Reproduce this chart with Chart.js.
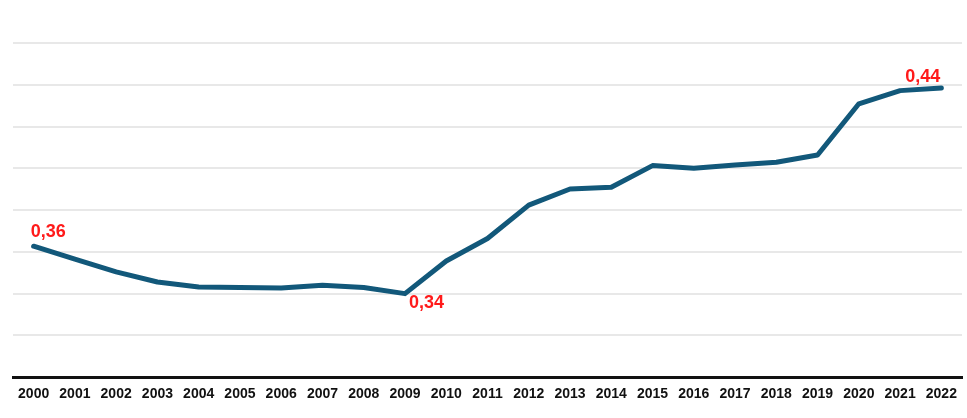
<!DOCTYPE html>
<html>
<head>
<meta charset="utf-8">
<script src="https://cdn.jsdelivr.net/npm/chart.js@4/dist/chart.umd.min.js"></script>
<style>
  html, body { margin: 0; padding: 0; background: #fff; }
  #wrap { width: 967px; height: 418px; position: relative; }
</style>
</head>
<body>
<div id="wrap"><canvas id="chart"></canvas></div>
<script>
// Years on the x axis
const years = ['2000', '2001', '2002', '2003', '2004', '2005', '2006', '2007', '2008', '2009', '2010',
    '2011', '2012', '2013', '2014', '2015', '2016', '2017', '2018', '2019', '2020', '2021', '2022'];

// Series values
const values = [0.3627, 0.3565, 0.3504, 0.3456, 0.3432, 0.3430, 0.3427, 0.3440, 0.3429, 0.3400, 0.3556,
    0.3664, 0.3824, 0.3901, 0.3909, 0.4013, 0.4000, 0.4016, 0.4029, 0.4064, 0.4309, 0.4372, 0.4385];

// Annotated points: index into years, text shown
const annotatedIdx = [0, 9, 22];
const annotatedText = ['0,36', '0,34', '0,44'];

const lineColor = '#12587a';

// Draws the red value labels next to a few points
const pointLabels = {
    id: 'pointLabels',
    afterDatasetsDraw(chart) {
        const { ctx } = chart;
        const meta = chart.getDatasetMeta(0);
        ctx.save();
        ctx.fillStyle = '#ff1a1a';
        ctx.font = 'bold 18px "Liberation Sans", Arial, sans-serif';
        ctx.textBaseline = 'middle';
        annotatedIdx.forEach((idx, i) => {
            const pt = meta.data[idx];
            if (idx === 0) {
                ctx.textAlign = 'left';
                ctx.fillText(annotatedText[i], pt.x - 3, pt.y - 14);
            } else if (idx === annotatedIdx[1]) {
                ctx.textAlign = 'left';
                ctx.fillText(annotatedText[i], pt.x + 4, pt.y + 9);
            } else {
                ctx.textAlign = 'right';
                ctx.fillText(annotatedText[i], pt.x - 1, pt.y - 11);
            }
        });
        ctx.restore();
    }
};

new Chart(document.getElementById('chart').getContext('2d'), {
    type: 'line',
    data: {
        labels: years,
        datasets: [{
            data: values,
            borderColor: lineColor,
            borderWidth: 5,
            pointRadius: 0,
            tension: 0,
            borderCapStyle: 'round',
            borderJoinStyle: 'round',
            fill: false
        }]
    },
    options: {
        responsive: true,
        maintainAspectRatio: false,
        animation: false,
        layout: {
            padding: { left: 13, right: 5, top: 43, bottom: 6 }
        },
        plugins: {
            legend: { display: false },
            tooltip: { enabled: false }
        },
        scales: {
            x: {
                offset: true,
                grid: { display: false, drawTicks: false },
                border: { display: true, color: '#111', width: 3 },
                ticks: {
                    color: '#111',
                    font: { family: '"Liberation Sans", Arial, sans-serif', size: 14, weight: 'bold' },
                    maxRotation: 0,
                    autoSkip: false,
                    padding: 9
                }
            },
            y: {
                min: 0.30,
                max: 0.46,
                grid: { color: '#e8e8e8', lineWidth: 2, drawTicks: false },
                border: { display: false },
                ticks: { display: false, stepSize: 0.02 }
            }
        }
    },
    plugins: [pointLabels]
});
</script>
</body>
</html>
